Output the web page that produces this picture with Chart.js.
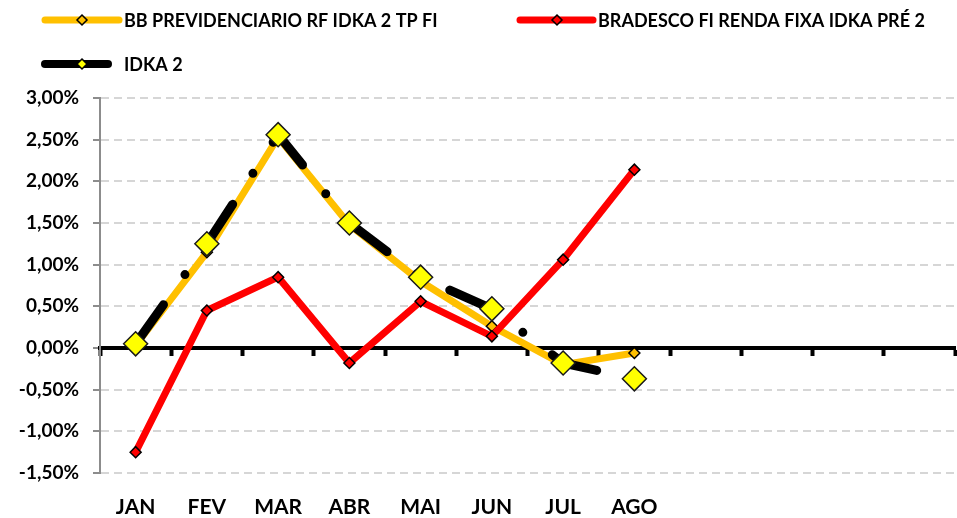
<!DOCTYPE html>
<html>
<head>
<meta charset="utf-8">
<script src="https://cdn.jsdelivr.net/npm/chart.js@4"></script>
<style>
  html, body { margin: 0; padding: 0; background: #fff; }
  #wrap { position: relative; width: 957px; height: 518px; }
</style>
</head>
<body>
<div id="wrap"><canvas id="grafica"></canvas></div>
<script>
// meses (os 4 ultimos ficam sem rotulo no eixo)
const meses = ['JAN', 'FEV', 'MAR', 'ABR', 'MAI', 'JUN', 'JUL', 'AGO', '', '', '', ''];

// rentabilidade mensal (%)
const bbPrev = [0.03, 1.15, 2.53, 1.48, 0.80, 0.26, -0.20, -0.06];
const bradesco = [-1.25, 0.45, 0.85, -0.18, 0.56, 0.14, 1.06, 2.14];
const idka2 = [0.05, 1.25, 2.56, 1.50, 0.85, 0.47, -0.18, -0.37];

const nomes = ['BB PREVIDENCIARIO RF IDKA 2 TP FI', 'BRADESCO FI RENDA FIXA IDKA PRÉ 2', 'IDKA 2'];

const yMin = -1.5, yMax = 3, yPasso = 0.5;

const fonte = 'Lato';
Chart.defaults.font.family = fonte;
Chart.defaults.font.weight = 'bold';
Chart.defaults.color = '#000';

function formataPct(v) {
    return v.toFixed(2).replace('.', ',') + '%';
}

// legenda com linha + marcador, como no Excel
const legendaLinhas = {
    id: 'legendaLinhas',
    afterDraw(chart) {
        const ctx = chart.ctx;
        const itens = [
            { ds: 0, x1: 45, x2: 119, tx: 124, y: 20 },
            { ds: 1, x1: 520, x2: 593, tx: 598, y: 20 },
            { ds: 2, x1: 45, x2: 108, tx: 124, y: 64 }
        ];
        ctx.save();
        itens.forEach(function (it) {
            const ds = chart.data.datasets[it.ds];
            ctx.beginPath();
            ctx.lineCap = 'round';
            ctx.lineWidth = it.ds === 2 ? 8 : 7;
            ctx.strokeStyle = ds.borderColor;
            ctx.moveTo(it.x1, it.y);
            ctx.lineTo(it.x2, it.y);
            ctx.stroke();

            const mx = 82 + (it.x1 - 45), r = 5;
            ctx.beginPath();
            ctx.moveTo(mx, it.y - r);
            ctx.lineTo(mx + r, it.y);
            ctx.lineTo(mx, it.y + r);
            ctx.lineTo(mx - r, it.y);
            ctx.closePath();
            ctx.fillStyle = ds.pointBackgroundColor;
            ctx.fill();
            ctx.lineWidth = 1.5;
            ctx.strokeStyle = '#000';
            ctx.stroke();

            ctx.fillStyle = '#000';
            ctx.font = 'bold 18px ' + fonte;
            ctx.textBaseline = 'middle';
            ctx.textAlign = 'left';
            ctx.fillText(ds.label, it.tx, it.y + 1);
        });
        ctx.restore();
    }
};

const ctx = document.getElementById('grafica').getContext('2d');
new Chart(ctx, {
    type: 'line',
    data: {
        labels: meses,
        datasets: [{
            label: nomes[0],
            data: bbPrev,
            borderColor: '#FFC000',
            borderWidth: 7,
            pointStyle: 'rectRot',
            pointRadius: 5.5,
            pointBackgroundColor: '#FFC000',
            pointBorderColor: '#000',
            pointBorderWidth: 1.5,
            order: 3
        }, {
            label: nomes[1],
            data: bradesco,
            borderColor: '#FF0000',
            borderWidth: 7,
            pointStyle: 'rectRot',
            pointRadius: 5.5,
            pointBackgroundColor: '#FF0000',
            pointBorderColor: '#000',
            pointBorderWidth: 1.5,
            order: 2
        }, {
            label: nomes[2],
            data: idka2,
            borderColor: '#000',
            borderWidth: 9,
            borderDash: [48, 37, 0, 37],
            borderCapStyle: 'round',
            pointStyle: 'rectRot',
            pointRadius: 12,
            pointBackgroundColor: '#FFFF00',
            pointBorderColor: '#1a1a1a',
            pointBorderWidth: 1.5,
            order: 1
        }]
    },
    options: {
        responsive: true,
        maintainAspectRatio: false,
        animation: false,
        tension: 0,
        layout: { autoPadding: false, padding: { top: 98, right: 2, left: 0, bottom: 0 } },
        plugins: {
            legend: { display: false },
            tooltip: { enabled: false }
        },
        scales: {
            x: {
                type: 'category',
                offset: true,
                grid: { display: false },
                border: { display: false },
                ticks: { padding: 14, font: { size: 21, weight: 'bold' }, maxRotation: 0, autoSkip: false },
                afterFit: function (s) { s.height = 45; }
            },
            x2: {
                type: 'category',
                axis: 'x',
                labels: meses,
                offset: true,
                position: { y: 0 },
                grid: { display: true, drawOnChartArea: false, offset: true, tickLength: 6, tickWidth: 4, tickColor: '#000' },
                border: { display: true, color: '#000', width: 4 },
                ticks: { display: false }
            },
            y: {
                min: yMin,
                max: yMax,
                ticks: {
                    stepSize: yPasso,
                    padding: 14,
                    font: { size: 19, weight: 'bold' },
                    callback: function (v) { return formataPct(v); }
                },
                grid: {
                    color: function (c) { return c.tick && c.tick.value === 0 ? 'rgba(0,0,0,0)' : '#d6d6d6'; },
                    lineWidth: 2,
                    tickLength: 7,
                    tickColor: '#8c8c8c',
                    tickWidth: 2
                },
                border: { display: true, color: '#8c8c8c', width: 2, dash: [8, 5] },
                afterFit: function (s) { s.width = 100; }
            }
        }
    },
    plugins: [legendaLinhas]
});
</script>
</body>
</html>
